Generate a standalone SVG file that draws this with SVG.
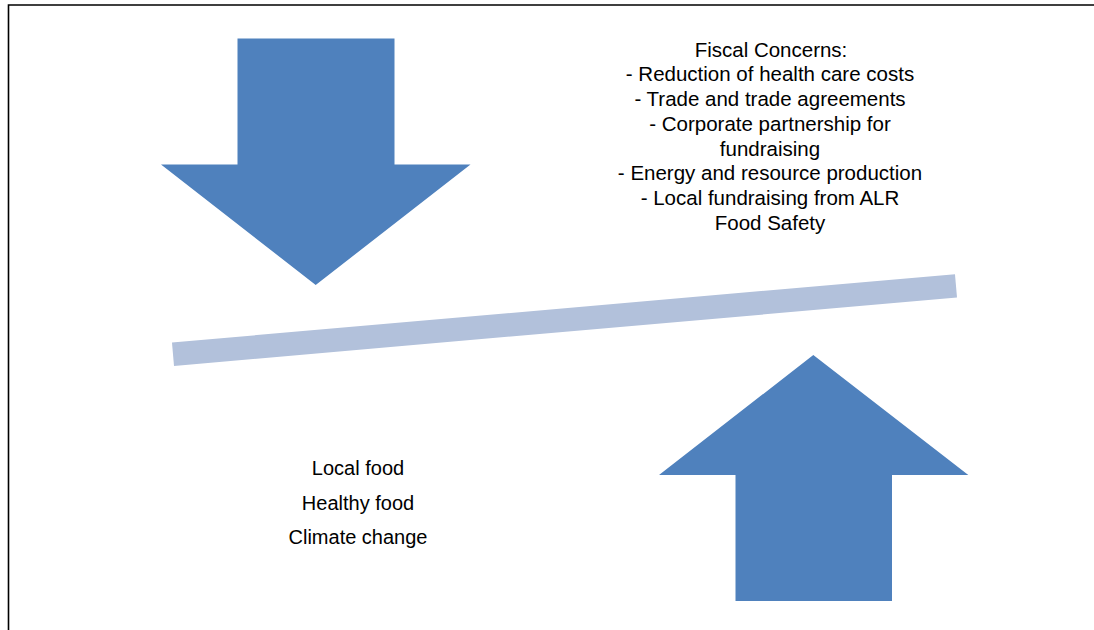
<svg xmlns="http://www.w3.org/2000/svg" width="1094" height="630" viewBox="0 0 1094 630">
<style>
.arrow{fill:#4F81BD}
.bar{stroke:#B2C1DB;stroke-width:23.5;stroke-linecap:butt;fill:none}
.frame{stroke:#000;stroke-width:1.6;fill:none}
text{font-family:"Liberation Sans",Arial,sans-serif;font-size:20.5px;fill:#000;text-anchor:middle}
.low{font-size:20px}
</style>
<rect x="0" y="0" width="1094" height="630" fill="#fff"/>
<g id="frame">
<path class="frame" d="M8.5,630 V5 H1094"/>
</g>
<g id="down-arrow">
<polygon class="arrow" points="237.5,38.5 394.5,38.5 394.5,164.5 470.5,164.5 315.7,285 161,164.5 237.5,164.5"/>
</g>
<g id="up-arrow">
<polygon class="arrow" points="813.3,355 968.3,475 892,475 892,601 735.5,601 735.5,475 659,475"/>
</g>
<g id="connectors">
<line id="balance-bar" class="bar" x1="173" y1="354.2" x2="956" y2="285.9"/>
</g>
<g id="fiscal-concerns">
<text x="771" y="56.5">Fiscal Concerns:</text>
<text x="770" y="81.3">- Reduction of health care costs</text>
<text x="770" y="106">- Trade and trade agreements</text>
<text x="770" y="130.8">- Corporate partnership for</text>
<text x="770" y="155.6">fundraising</text>
<text x="770" y="180.4">- Energy and resource production</text>
<text x="770" y="205.2">- Local fundraising from ALR</text>
<text x="770" y="230">Food Safety</text>
</g>
<g id="local-concerns">
<text class="low" x="358" y="474.8">Local food</text>
<text class="low" x="358" y="509.5">Healthy food</text>
<text class="low" x="358" y="544">Climate change</text>
</g>
</svg>
